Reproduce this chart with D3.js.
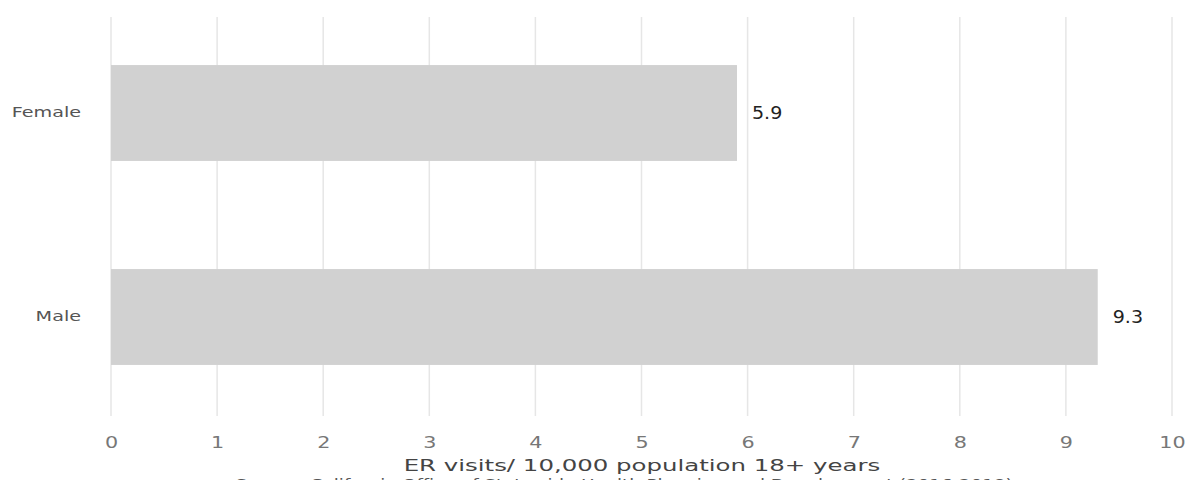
<!DOCTYPE html>
<html><head><meta charset="utf-8">
<script src="https://cdn.jsdelivr.net/npm/d3@7"></script>
<style>body{margin:0;background:#fff;}svg{display:block;}</style>
</head><body>
<svg id="c" width="1194" height="480"></svg>
<script>
const categories = ["Female", "Male"];
const values = [5.9, 9.3];
const tickValues = [0,1,2,3,4,5,6,7,8,9,10];
const axisTitle = "ER visits/ 10,000 population 18+ years";
const sourceText = "Source: California Office of Statewide Health Planning and Development (2016-2018)";

const svg = d3.select("#c");
const font = "'DejaVu Sans', Verdana, sans-serif";
const x = d3.scaleLinear().domain([0,10]).range([111,1172]);
const y = d3.scaleBand().domain(categories).range([11,419]).paddingInner(0.53).paddingOuter(0.265);

function stretch(sel, k) {
  sel.each(function() {
    const w = this.getComputedTextLength();
    d3.select(this).attr("textLength", w * k).attr("lengthAdjust", "spacingAndGlyphs");
  });
}

// gridlines
svg.append("g").selectAll("line").data(tickValues).join("line")
  .attr("x1", d=>x(d)).attr("x2", d=>x(d)).attr("y1", 17).attr("y2", 416)
  .attr("stroke", "#e6e6e6").attr("stroke-width", 1.5);

// bars
svg.append("g").selectAll("rect").data(values).join("rect")
  .attr("x", x(0)).attr("y", (d,i)=>y(categories[i]))
  .attr("width", d=>x(d)-x(0)).attr("height", y.bandwidth())
  .attr("fill", "#d1d1d1");

// value labels
svg.append("g").selectAll("text").data(values).join("text")
  .attr("x", d=>x(d)+15).attr("y", (d,i)=>y(categories[i])+y.bandwidth()/2)
  .attr("dy", "0.36em").attr("font-family", font).attr("font-size", 17)
  .attr("fill", "#222").text(d=>d.toFixed(1))
  .call(stretch, 1.12);

// category labels
const yAxis = svg.append("g").attr("transform", `translate(${x(0)-30},0)`)
  .call(d3.axisLeft(y).tickSize(0).tickPadding(0));
yAxis.select(".domain").remove();
yAxis.selectAll("text").attr("font-family", font).attr("font-size", 13.5).attr("fill", "#555")
  .call(stretch, 1.42);

// x axis ticks
const xAxis = svg.append("g").attr("transform", "translate(0,426)")
  .call(d3.axisBottom(x).tickValues(tickValues).tickSize(0).tickPadding(11).tickFormat(d3.format("d")));
xAxis.select(".domain").remove();
xAxis.selectAll("text").attr("font-family", font).attr("font-size", 15).attr("fill", "#777")
  .call(stretch, 1.38);

// axis title
svg.append("text").attr("x", 642).attr("y", 471).attr("text-anchor", "middle")
  .attr("font-family", font).attr("font-size", 16.5).attr("fill", "#444").text(axisTitle)
  .call(stretch, 1.48);
svg.append("text").attr("x", 624).attr("y", 489).attr("text-anchor", "middle")
  .attr("font-family", font).attr("font-size", 14).attr("fill", "#555").text(sourceText)
  .call(stretch, 1.3);
</script>
</body></html>
